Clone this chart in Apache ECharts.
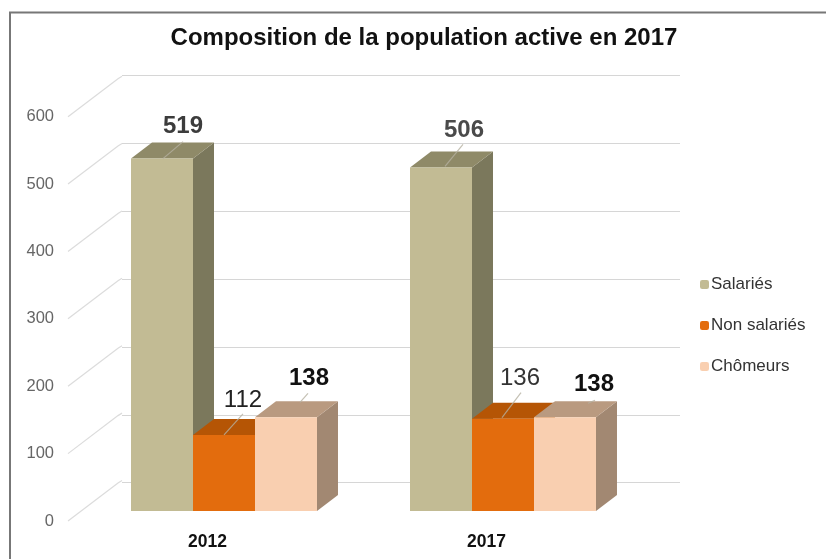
<!DOCTYPE html>
<html><head><meta charset="utf-8">
<style>html,body{margin:0;padding:0;background:#fff}#c{width:826px;height:559px}</style>
<script src="https://cdn.jsdelivr.net/npm/echarts@6/dist/echarts.min.js"></script>
</head><body><div id="c"></div>
<script>
const categories = ['2012', '2017'];
const salaries = [519, 506];
const nonSalaries = [112, 136];
const chomeurs = [138, 138];
const yTicks = [0, 100, 200, 300, 400, 500, 600];
const seriesNames = ['Salariés', 'Non salariés', 'Chômeurs'];

const FONT = '"Liberation Sans", Arial, sans-serif';
const DEPTH_X = 21, DEPTH_Y = 16;
const palette = [
  { front: '#c2bb94', top: '#8f8a68', side: '#7b785c' },
  { front: '#e36c0d', top: '#b55505', side: '#a85006' },
  { front: '#f9cfb0', top: '#b99a80', side: '#a28872' }
];
// label and leader placement relative to bar centre / top, per series then per category
const annot = [
  [{ lx: 21, ly: -32, bold: true, color: '#3c3c3c', a: [1, 0], b: [21, -17] },
   { lx: 23, ly: -37, bold: true, color: '#4a4a4a', a: [4, -1], b: [22, -23] }],
  [{ lx: 19, ly: -35, bold: false, color: '#222', a: [0, 0], b: [19, -21] },
   { lx: 17, ly: -40, bold: false, color: '#333', a: [-1, -1], b: [18, -26] }],
  [{ lx: 23, ly: -39, bold: true, color: '#111', a: [14, -15], b: [22, -24] },
   { lx: 29, ly: -33, bold: true, color: '#111', a: [23, -14], b: [30, -17] }]
];

function barRender(si) {
  return function (params, api) {
    const idx = api.value(0), val = api.value(1);
    const base = api.coord([idx, 0]), top = api.coord([idx, val]);
    const w = api.size([1, 0])[0] * 0.2222;
    const cx = base[0] + (si - 1) * w;
    const l = cx - w / 2, r = cx + w / 2, yb = base[1], yt = top[1];
    const c = palette[si], an = annot[si][idx];
    return {
      type: 'group',
      children: [
        { type: 'polygon', shape: { points: [[r, yb], [r + DEPTH_X, yb - DEPTH_Y], [r + DEPTH_X, yt - DEPTH_Y], [r, yt]] }, style: { fill: c.side } },
        { type: 'polygon', shape: { points: [[l, yt], [l + DEPTH_X, yt - DEPTH_Y], [r + DEPTH_X, yt - DEPTH_Y], [r, yt]] }, style: { fill: c.top } },
        { type: 'rect', shape: { x: l, y: yt, width: w, height: yb - yt }, style: { fill: c.front } },
        { type: 'line', shape: { x1: cx + an.a[0], y1: yt + an.a[1], x2: cx + an.b[0], y2: yt + an.b[1] }, style: { stroke: '#b5b0a0', lineWidth: 1.2, opacity: 0.8 } },
        { type: 'text', z2: 10, style: { x: cx + an.lx, y: yt + an.ly, text: String(val), align: 'center', verticalAlign: 'middle', fill: an.color, font: (an.bold ? 'bold ' : '') + '24px ' + FONT } }
      ]
    };
  };
}

function sideRender(params, api) {
  const v = api.value(0);
  const a = api.coord([0, v]), b = api.coord([1, v]);
  return { type: 'polyline', shape: { points: [a, [b[0] - 4, b[1] - 38], [b[0], b[1] - 40.5]] }, style: { fill: 'none', stroke: '#dcdcdc', lineWidth: 1.2 } };
}

const barData = [salaries, nonSalaries, chomeurs];
const chart = echarts.init(document.getElementById('c'), null, { renderer: 'canvas' });
chart.setOption({
  animation: false,
  backgroundColor: '#fff',
  title: { text: 'Composition de la population active en 2017', left: 419, top: 21, textAlign: 'center',
    textStyle: { fontFamily: FONT, fontWeight: 'bold', fontSize: 24, color: '#111' } },
  legend: { orient: 'vertical', left: 695, top: 271, itemWidth: 9, itemHeight: 9, itemGap: 24, data: seriesNames,
    textStyle: { fontFamily: FONT, fontSize: 17, color: '#333', padding: [0, 0, 0, -3] } },
  grid: [
    { left: 84.5, width: 558, top: 103.6, height: 407.4 },
    { left: 122, width: 558, top: 75.3, height: 407.4 },
    { left: 68, width: 54, top: 116.7, height: 404.3 }
  ],
  xAxis: [
    { gridIndex: 0, type: 'category', data: categories, axisLine: { show: false }, axisTick: { show: false },
      axisLabel: { margin: 22, padding: [0, 33, 0, 0], fontFamily: FONT, fontWeight: 'bold', fontSize: 17.5, color: '#111' } },
    { gridIndex: 1, type: 'value', min: 0, max: 1, show: false },
    { gridIndex: 2, type: 'value', min: 0, max: 1, show: false }
  ],
  yAxis: [
    { gridIndex: 0, type: 'value', min: yTicks[0], max: yTicks[yTicks.length - 1], interval: 100, show: false },
    { gridIndex: 1, type: 'value', min: yTicks[0], max: yTicks[yTicks.length - 1], interval: 100, axisLine: { show: false }, axisTick: { show: false }, axisLabel: { show: false },
      splitLine: { show: true, lineStyle: { color: '#d6d6d6', width: 1.2 } } },
    { gridIndex: 2, type: 'value', min: yTicks[0], max: yTicks[yTicks.length - 1], interval: 100, axisLine: { show: false }, axisTick: { show: false }, splitLine: { show: false },
      axisLabel: { margin: 14, padding: [3, 0, 0, 0], fontFamily: FONT, fontSize: 16.5, color: '#666' } }
  ],
  graphic: [{ type: 'polyline', silent: true, shape: { points: [[826, 12.5], [10, 12.5], [10, 559]] }, style: { fill: 'none', stroke: '#777', lineWidth: 2 } }],
  series: [
    { type: 'custom', xAxisIndex: 2, yAxisIndex: 2, silent: true, z: 1, clip: false, renderItem: sideRender, data: yTicks.map(v => [v]), encode: { y: 0 } }
  ].concat(seriesNames.map((name, si) => ({
    type: 'custom', name, xAxisIndex: 0, yAxisIndex: 0, z: 3 + si, clip: false, silent: true,
    itemStyle: { color: palette[si].front },
    renderItem: barRender(si),
    encode: { x: 0, y: 1 },
    data: barData[si].map((v, i) => [i, v])
  })))
});
</script></body></html>
